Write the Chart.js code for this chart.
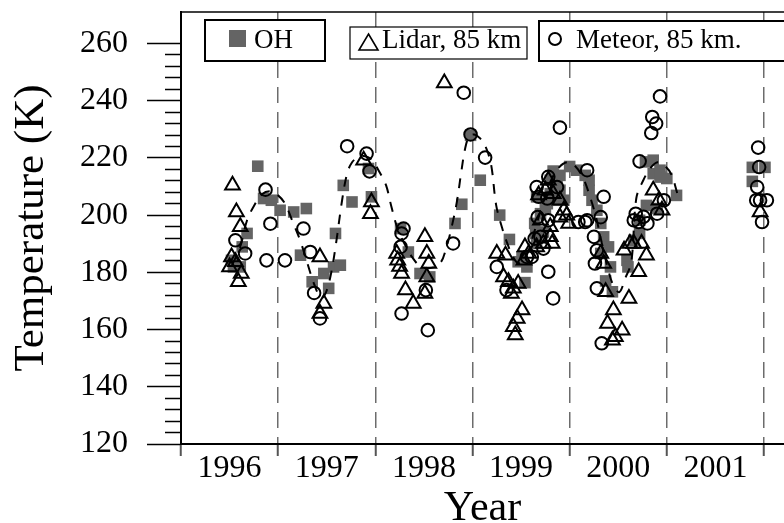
<!DOCTYPE html>
<html>
<head>
<meta charset="utf-8">
<script src="https://cdn.jsdelivr.net/npm/chart.js@4/dist/chart.umd.min.js"></script>
<style>
html,body{margin:0;padding:0;background:#fff;}
#wrap{width:784px;height:523px;position:relative;overflow:hidden;}
</style>
</head>
<body>
<div id="wrap"><canvas id="c" width="784" height="523"></canvas></div>
<script>
// ---------- DATA ----------
const yearLabels = ['1996', '1997', '1998', '1999', '2000', '2001'];
const xTickValues = [1996, 1996.5, 1997, 1997.5, 1998, 1998.5, 1999, 1999.5, 2000, 2000.5, 2001, 2001.5, 2002];
const yTickValues = [120,124,128,132,136,140,144,148,152,156,160,164,168,172,176,180,184,188,192,196,200,
                     204,208,212,216,220,224,228,232,236,240,244,248,252,256,260];
const legendLabels = ['OH', 'Lidar, 85 km', 'Meteor, 85 km.'];
const xTitle = 'Year';
const yTitle = 'Temperature (K)';

// OH (squares): [year, K]
const ohPoints = [
  [1996.52,184.2],[1996.54,181.9],[1996.61,181.9],[1996.63,188.9],[1996.68,193.6],[1996.79,217.1],
  [1996.85,205.8],[1996.93,205.2],[1997.02,201.7],[1997.16,201.1],[1997.29,202.3],[1997.23,186.0],
  [1997.35,176.7],[1997.47,179.6],[1997.52,174.4],[1997.57,181.9],[1997.64,182.5],[1997.59,193.6],
  [1997.67,210.4],[1997.76,204.6],[1997.93,216.3],[1997.96,206.4],[1998.26,195.3],[1998.34,187.1],
  [1998.46,179.6],[1998.56,178.4],[1998.82,197.1],[1998.89,203.8],[1998.98,227.9],[1999.08,212.2],
  [1999.28,200.0],[1999.38,191.5],[1999.47,183.7],[1999.51,185.4],[1999.56,181.9],[1999.54,176.4],
  [1999.65,193.6],[1999.66,190.1],[1999.64,197.1],[1999.70,200.5],[1999.73,194.1],[1999.66,206.4],
  [1999.75,202.3],[1999.77,204.0],[1999.80,207.5],[1999.80,212.2],[1999.83,215.4],[1999.87,211.0],
  [1999.87,205.2],[1999.90,213.9],[1999.90,208.7],[1999.94,205.2],[2000.00,217.0],[2000.07,215.7],
  [2000.16,213.9],[2000.20,212.2],[2000.20,208.7],[2000.23,205.2],[2000.28,201.7],[2000.32,197.1],
  [2000.35,192.4],[2000.40,188.9],[2000.32,186.6],[2000.42,181.9],[2000.37,177.0],[2000.44,173.2],
  [2000.59,184.2],[2000.60,181.9],[2000.66,191.2],[2000.72,193.6],[2000.72,198.2],[2000.79,203.4],
  [2000.90,202.3],[2000.78,218.6],[2000.86,219.2],[2000.86,214.5],[2000.93,213.3],[2000.93,215.7],
  [2001.00,212.8],[2001.10,206.9],[2001.88,216.7],[2002.01,216.7],[2001.88,211.8]
];

// Lidar 85 km (triangles): [year, K]
const lidarPoints = [
  [1996.53,210.4],[1996.57,201.1],[1996.61,195.9],[1996.52,185.4],[1996.56,183.7],[1996.50,181.9],
  [1996.62,179.6],[1996.59,176.7],[1997.43,185.4],[1997.47,169.1],[1997.43,165.6],[1997.88,219.2],
  [1997.96,204.6],[1997.95,200.5],[1998.22,186.6],[1998.23,184.2],[1998.25,182.0],[1998.27,179.6],
  [1998.51,192.4],[1998.53,186.6],[1998.55,183.1],[1998.53,178.4],[1998.51,172.6],[1998.31,173.8],
  [1998.39,169.1],[1998.71,246.2],[1999.25,186.6],[1999.34,186.0],[1999.32,178.4],[1999.37,176.7],
  [1999.42,174.4],[1999.40,172.6],[1999.47,176.1],[1999.51,166.8],[1999.46,163.9],[1999.42,161.0],
  [1999.44,158.1],[1999.54,188.9],[1999.58,186.6],[1999.53,184.2],[1999.66,188.9],[1999.68,207.0],
  [1999.70,198.2],[1999.73,190.1],[1999.75,208.7],[1999.78,212.2],[1999.80,195.9],[1999.80,192.4],
  [1999.82,190.1],[1999.83,207.5],[1999.90,205.2],[1999.90,199.3],[1999.94,201.7],[1999.97,200.0],
  [1999.99,197.1],[2000.32,186.6],[2000.35,183.1],[2000.37,173.2],[2000.45,166.8],[2000.39,162.1],
  [2000.54,159.8],[2000.47,157.5],[2000.44,156.3],[2000.61,170.9],[2000.71,180.2],[2000.56,187.7],
  [2000.62,190.1],[2000.66,190.1],[2000.74,190.1],[2000.79,186.0],[2000.86,208.7],[2000.92,205.2],
  [2000.95,201.7],[2001.96,201.1]
];

// Meteor 85 km (circles): [year, K]
const meteorPoints = [
  [1996.56,191.2],[1996.66,186.6],[1996.87,208.9],[1996.92,197.0],[1996.88,184.2],[1997.07,184.2],
  [1997.26,195.3],[1997.33,187.1],[1997.37,172.8],[1997.43,163.9],[1997.71,224.1],[1997.91,221.5],
  [1997.94,215.3],[1998.29,195.3],[1998.27,193.6],[1998.26,188.9],[1998.27,165.6],[1998.52,173.8],
  [1998.54,159.8],[1998.80,190.1],[1998.91,242.8],[1998.98,228.2],[1999.13,220.1],[1999.25,181.9],
  [1999.35,173.8],[1999.56,185.4],[1999.61,185.4],[1999.64,191.8],[1999.66,209.8],[1999.67,199.3],
  [1999.68,206.4],[1999.70,192.4],[1999.73,188.3],[1999.77,205.8],[1999.78,213.4],[1999.78,198.2],
  [1999.78,180.2],[1999.83,170.9],[1999.87,209.8],[1999.90,230.6],[2000.09,197.6],[2000.16,197.6],
  [2000.18,198.2],[2000.18,215.7],[2000.25,192.4],[2000.26,183.1],[2000.28,187.7],[2000.28,174.4],
  [2000.32,199.3],[2000.33,155.2],[2000.35,206.4],[2000.66,198.2],[2000.68,200.5],[2000.71,197.6],
  [2000.72,218.8],[2000.76,199.4],[2000.80,197.1],[2000.84,228.7],[2000.85,234.3],[2000.89,232.0],
  [2000.90,200.5],[2000.93,241.5],[2000.97,205.2],[2001.94,223.6],[2001.95,216.8],[2001.93,209.8],
  [2001.92,205.2],[2001.96,205.2],[2002.03,205.2],[2001.98,197.6]
];

// Dashed seasonal fit curve: [year, K]
const fitPoints = [
  [1996.525,182.5],[1996.608,188.8],[1996.680,198.2],[1996.752,203.3],[1996.834,207.3],[1996.917,208.3],
  [1996.999,206.9],[1997.071,204.0],[1997.143,198.2],[1997.226,191.2],[1997.298,183.5],[1997.370,175.9],
  [1997.442,171.0],[1997.493,173.1],[1997.545,179.7],[1997.596,190.2],[1997.658,205.2],[1997.710,214.6],
  [1997.761,218.5],[1997.823,220.2],[1997.895,220.6],[1997.967,219.2],[1998.050,214.6],[1998.111,210.4],
  [1998.163,203.3],[1998.224,195.8],[1998.307,189.5],[1998.379,185.3],[1998.461,182.2],[1998.564,181.5],
  [1998.667,183.2],[1998.729,188.4],[1998.790,196.5],[1998.842,205.2],[1998.884,215.0],[1998.925,223.4],
  [1998.966,227.5],[1999.018,228.2],[1999.079,226.8],[1999.141,223.4],[1999.193,217.4],[1999.244,203.4],
  [1999.306,195.4],[1999.347,191.2],[1999.409,186.0],[1999.471,183.2],[1999.543,184.9],[1999.625,193.0],
  [1999.718,203.4],[1999.800,211.5],[1999.883,216.4],[1999.975,218.5],[2000.058,217.1],[2000.140,212.9],
  [2000.212,206.2],[2000.274,198.9],[2000.336,189.5],[2000.397,180.8],[2000.449,175.5],[2000.511,173.1],
  [2000.573,178.0],[2000.634,183.5],[2000.686,205.9],[2000.758,212.2],[2000.830,216.4],[2000.902,218.5],
  [2000.974,217.4],[2001.046,214.3],[2001.108,207.6]
];

// ---------- CHART ----------
const SERIF = '"Liberation Serif", "Times New Roman", serif';
const toXY = arr => arr.map(p => ({x: p[0], y: p[1]}));
const isYear = v => Math.abs(v - Math.round(v)) < 1e-6;

const legendBoxes = {
  id: 'legendBoxes',
  afterDraw(chart) {
    const ctx = chart.ctx, a = chart.chartArea;
    ctx.save();
    // top frame line
    ctx.strokeStyle = '#000';
    ctx.lineWidth = 1.5;
    ctx.beginPath(); ctx.moveTo(a.left, a.top); ctx.lineTo(a.right, a.top); ctx.stroke();

    ctx.font = '27px ' + SERIF;
    ctx.textBaseline = 'middle';
    ctx.textAlign = 'left';

    // OH
    ctx.fillStyle = '#fff'; ctx.fillRect(205, 20, 120, 41);
    ctx.lineWidth = 2; ctx.strokeStyle = '#000'; ctx.strokeRect(205, 20, 120, 41);
    ctx.fillStyle = '#646464'; ctx.fillRect(229, 30, 17, 17);
    ctx.fillStyle = '#000'; ctx.fillText(legendLabels[0], 254, 41);

    // Lidar
    ctx.fillStyle = '#fff'; ctx.fillRect(350, 27, 177, 32);
    ctx.lineWidth = 1.2; ctx.strokeRect(350, 27, 177, 32);
    ctx.lineWidth = 1.6;
    ctx.beginPath(); ctx.moveTo(368.5, 34); ctx.lineTo(378, 50); ctx.lineTo(359, 50); ctx.closePath(); ctx.stroke();
    ctx.fillStyle = '#000'; ctx.fillText(legendLabels[1], 382, 41);

    // Meteor
    ctx.fillStyle = '#fff'; ctx.fillRect(539, 21, 260, 40);
    ctx.lineWidth = 2; ctx.strokeRect(539, 21, 260, 40);
    ctx.beginPath(); ctx.arc(555, 39, 6, 0, Math.PI * 2); ctx.stroke();
    ctx.fillStyle = '#000'; ctx.fillText(legendLabels[2], 576, 41);
    ctx.restore();
  }
};

new Chart(document.getElementById('c'), {
  type: 'scatter',
  data: {
    datasets: [
      {
        label: legendLabels[2], data: toXY(meteorPoints), order: 1,
        pointStyle: 'circle', pointRadius: 6.3, pointBorderWidth: 2,
        borderColor: '#000', backgroundColor: 'rgba(0,0,0,0)', pointHoverRadius: 6.3
      },
      {
        label: legendLabels[1], data: toXY(lidarPoints), order: 2,
        pointStyle: 'triangle', pointRadius: 8.5, pointBorderWidth: 2,
        borderColor: '#000', backgroundColor: 'rgba(0,0,0,0)', pointHoverRadius: 8.5
      },
      {
        type: 'line', label: 'fit', data: toXY(fitPoints), order: 3,
        borderColor: '#000', borderWidth: 2, borderDash: [10, 9],
        pointRadius: 0, tension: 0.35, fill: false
      },
      {
        label: legendLabels[0], data: toXY(ohPoints), order: 4,
        pointStyle: 'rect', pointRadius: 8.2, pointBorderWidth: 0,
        borderColor: 'rgba(0,0,0,0)', backgroundColor: '#646464', pointHoverRadius: 8.2
      }
    ]
  },
  options: {
    responsive: false,
    animation: false,
    devicePixelRatio: 1,
    layout: { autoPadding: false, padding: { top: 12, left: 0, right: 0, bottom: 0 } },
    plugins: { legend: { display: false }, tooltip: { enabled: false } },
    scales: {
      x: {
        type: 'linear', position: 'bottom', min: 1996, max: 2002.206,
        afterBuildTicks: s => { s.ticks = xTickValues.map(v => ({ value: v })); },
        afterFit: s => { s.height = 79; s.paddingLeft = 0; s.paddingRight = 0; },
        ticks: {
          autoSkip: false, maxRotation: 0, minRotation: 0, padding: -3, color: '#000',
          font: { family: SERIF, size: 32, lineHeight: 1 },
          callback: v => {
            const i = Math.round((v - 1996) * 2);
            return (i % 2 === 1) ? yearLabels[(i - 1) / 2] : '';
          }
        },
        grid: {
          drawOnChartArea: true, drawTicks: true, tickLength: 12,
          lineWidth: 1.5,
          color: c => (c.tick && isYear(c.tick.value)) ? '#6c6c6c' : 'rgba(0,0,0,0)',
          tickColor: c => (c.tick && isYear(c.tick.value)) ? '#555' : 'rgba(0,0,0,0)',
          tickWidth: 2,
          tickBorderDash: []
        },
        border: { display: true, color: '#000', width: 2, dash: [16, 9] },
        title: {
          display: true, text: xTitle, color: '#000',
          font: { family: SERIF, size: 42, lineHeight: 0.66 }, padding: 0
        }
      },
      y: {
        type: 'linear', position: 'left', min: 120, max: 271,
        afterBuildTicks: s => { s.ticks = yTickValues.map(v => ({ value: v })); },
        afterFit: s => { s.width = 181; s.paddingTop = 0; s.paddingBottom = 0; },
        ticks: {
          autoSkip: false, padding: 19, color: '#000',
          font: { family: SERIF, size: 32 },
          callback: v => (v % 20 === 0) ? String(v) : ''
        },
        grid: {
          drawOnChartArea: false, drawTicks: true, tickLength: 34,
          tickColor: '#000', tickWidth: 1.5,
          tickBorderDash: c => (c.tick && c.tick.value % 20 === 0) ? [] : [0, 18, 16, 100]
        },
        border: { display: true, color: '#000', width: 2 },
        title: {
          display: true, text: yTitle, color: '#000',
          font: { family: SERIF, size: 43, lineHeight: 1.2 }, padding: { top: 6, bottom: 0 }
        }
      }
    }
  },
  plugins: [legendBoxes]
});
</script>
</body>
</html>
